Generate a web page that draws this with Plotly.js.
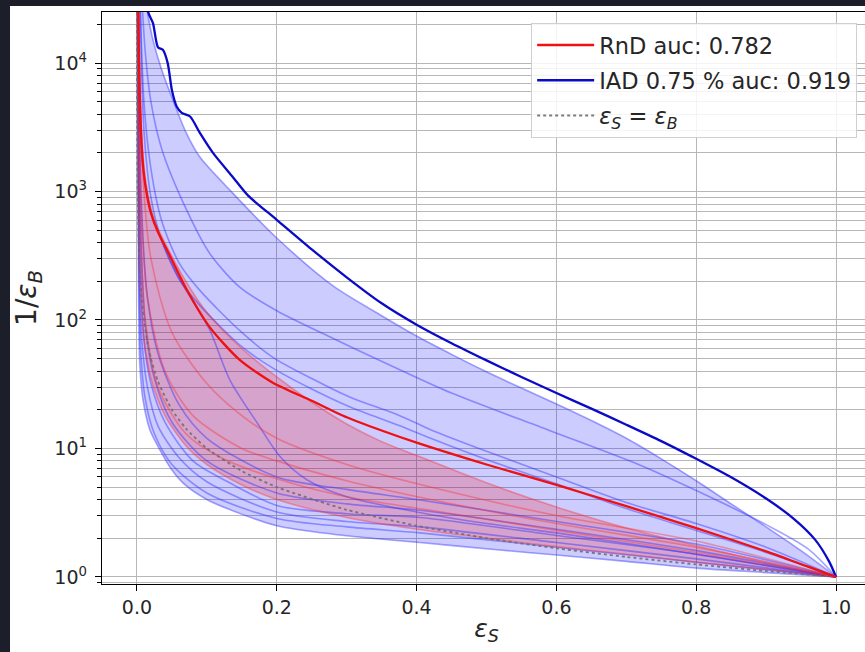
<!DOCTYPE html>
<html>
<head>
<meta charset="utf-8">
<script src="https://cdn.plot.ly/plotly-3.0.1.min.js"></script>
<style>
  html, body { margin:0; padding:0; background:#1c1f29; overflow:hidden; width:865px; height:652px; }
  #chart { position:absolute; left:10px; top:6px; width:880px; height:660px; background:#ffffff; }
</style>
</head>
<body>
<div id="chart"></div>
<script>
// ---------------- data ----------------
// thick IAD curve
const iadX = [0.013, 0.016, 0.023, 0.030, 0.037, 0.044, 0.050, 0.057, 0.064, 0.076, 0.09, 0.109, 0.137, 0.159, 0.2, 0.25, 0.3, 0.35, 0.4, 0.45, 0.5, 0.55, 0.6, 0.65, 0.7, 0.75, 0.8, 0.85, 0.9, 0.94, 0.97, 0.99, 1.0];
const iadY = [40000, 25000, 20400, 13300, 12700, 10000, 6150, 4570, 4100, 3840, 2860, 1990, 1300, 930, 603, 355, 215, 135, 92, 66, 48.5, 36, 27, 20.4, 15.3, 11.4, 8.3, 5.96, 4.07, 2.82, 1.95, 1.32, 1.0];
// thick RnD curve
const rndX = [0.0015, 0.0029, 0.0057, 0.0093, 0.0143, 0.020, 0.030, 0.043, 0.0715, 0.104, 0.147, 0.195, 0.25, 0.3, 0.35, 0.4, 0.5, 0.6, 0.7, 0.8, 0.9, 0.96, 1.0];
const rndY = [40000, 10550, 3010, 1470, 939, 680, 484, 351, 171, 88, 48.9, 32.3, 23.5, 17.5, 13.8, 11.1, 7.5, 5.2, 3.55, 2.4, 1.58, 1.2, 1.0];
// IAD band: upper and lower envelope
const iadUpX = [0.010, 0.015, 0.023, 0.035, 0.0515, 0.07, 0.09, 0.137, 0.2, 0.28, 0.35, 0.4, 0.45, 0.5, 0.55, 0.6, 0.65, 0.7, 0.75, 0.8, 0.85, 0.9, 0.95, 1.0];
const iadUpY = [40000, 25000, 15100, 9000, 5150, 2900, 1855, 973, 435, 185, 108, 75, 54, 39.5, 29.5, 22.2, 16.5, 12, 8.3, 5.6, 3.7, 2.45, 1.6, 1.0];
const iadLoX = [0.0005, 0.002, 0.004, 0.0086, 0.0186, 0.033, 0.05, 0.069, 0.1, 0.129, 0.2, 0.28, 0.405, 0.519, 0.6, 0.7, 0.8, 0.9, 1.0];
const iadLoY = [40000, 300, 46, 24, 13.9, 9.7, 6.8, 5.2, 4.0, 3.4, 2.5, 2.15, 1.85, 1.62, 1.48, 1.32, 1.17, 1.08, 1.0];
// RnD band: upper and lower envelope
const rndUpX = [0.002, 0.0045, 0.009, 0.015, 0.025, 0.04, 0.07, 0.1, 0.15, 0.2, 0.25, 0.3, 0.35, 0.405, 0.5, 0.6, 0.7, 0.8, 0.9, 1.0];
const rndUpY = [40000, 6000, 1800, 1000, 600, 400, 200, 115, 60, 36, 23, 15.5, 11.3, 8.6, 5.4, 3.5, 2.4, 1.75, 1.3, 1.0];
const rndLoX = [0.0008, 0.003, 0.006, 0.01, 0.02, 0.04, 0.07, 0.1, 0.15, 0.2, 0.3, 0.4, 0.5, 0.6, 0.7, 0.8, 0.9, 1.0];
const rndLoY = [40000, 400, 130, 70, 35, 18, 10.5, 7.5, 5.2, 4.0, 2.9, 2.35, 2.0, 1.72, 1.5, 1.3, 1.14, 1.0];
// individual IAD runs (thin blue)
const iadRun2X = [0.006, 0.012, 0.02, 0.036, 0.072, 0.104, 0.147, 0.2, 0.28, 0.376, 0.45, 0.59, 0.72, 0.8, 0.9, 0.96, 1.0];
const iadRun2Y = [40000, 12000, 5000, 2100, 700, 330, 180, 118, 72, 41, 27, 13.8, 7.4, 4.7, 2.55, 1.65, 1.0];
const iadRun3X = [0.004, 0.01, 0.02, 0.035, 0.06, 0.09, 0.15, 0.195, 0.25, 0.305, 0.376, 0.42, 0.5, 0.6, 0.7, 0.8, 0.9, 1.0];
const iadRun3Y = [40000, 5000, 1500, 600, 280, 170, 80, 51, 35, 25, 18, 14, 9.5, 6.0, 3.8, 2.6, 1.7, 1.0];
const iadRun4X = [0.004, 0.01, 0.02, 0.035, 0.06, 0.09, 0.15, 0.195, 0.25, 0.305, 0.376, 0.42, 0.5, 0.6, 0.7, 0.8, 0.9, 1.0];
const iadRun4Y = [40000, 3000, 900, 420, 210, 130, 62, 42, 29, 21, 15, 12, 8.2, 5.3, 3.4, 2.3, 1.55, 1.0];
const iadRun5X = [0.0015, 0.005, 0.01, 0.02, 0.035, 0.0615, 0.08, 0.104, 0.133, 0.172, 0.205, 0.243, 0.3, 0.4, 0.5, 0.6, 0.8, 1.0];
const iadRun5Y = [40000, 3000, 1300, 700, 420, 204, 140, 84, 34, 15.8, 8.6, 5.7, 4.2, 3.2, 2.6, 2.2, 1.5, 1.0];
const iadRun6X = [0.0007, 0.003, 0.006, 0.012, 0.025, 0.05, 0.1, 0.2, 0.3, 0.405, 0.6, 0.8, 1.0];
const iadRun6Y = [40000, 200, 50, 24, 13, 7.5, 4.5, 2.85, 2.45, 2.2, 1.7, 1.3, 1.0];
const iadRun7X = [0.0008, 0.003, 0.007, 0.015, 0.03, 0.06, 0.1, 0.2, 0.3, 0.405, 0.6, 0.8, 1.0];
const iadRun7Y = [40000, 300, 70, 30, 15, 8.5, 5.5, 3.2, 2.7, 2.45, 1.85, 1.38, 1.0];
const iadRun8X = [0.001, 0.004, 0.01, 0.02, 0.04, 0.08, 0.13, 0.2, 0.3, 0.405, 0.6, 0.8, 1.0];
const iadRun8Y = [40000, 400, 70, 32, 16, 8, 5.5, 3.6, 3.1, 2.9, 2.1, 1.5, 1.0];
const iadRun9X = [0.001, 0.005, 0.012, 0.025, 0.05, 0.1, 0.2, 0.3, 0.405, 0.6, 0.8, 1.0];
const iadRun9Y = [40000, 600, 90, 35, 16, 8, 4.5, 3.7, 3.3, 2.35, 1.6, 1.0];
const iadRun10X = [0.0015, 0.006, 0.015, 0.03, 0.06, 0.1, 0.2, 0.3, 0.405, 0.6, 0.8, 1.0];
const iadRun10Y = [40000, 900, 150, 55, 22, 12, 6.0, 4.8, 3.97, 2.7, 1.8, 1.0];
// individual RnD runs (thin red)
const rndRun2X = [0.002, 0.008, 0.02, 0.05, 0.1, 0.15, 0.2, 0.3, 0.42, 0.6, 0.8, 1.0];
const rndRun2Y = [40000, 1500, 300, 80, 32, 18, 12, 7.5, 5.0, 3.0, 1.9, 1.0];
const rndRun3X = [0.002, 0.006, 0.015, 0.04, 0.08, 0.15, 0.2, 0.3, 0.42, 0.6, 0.8, 1.0];
const rndRun3Y = [40000, 800, 150, 40, 18, 10, 8, 5.6, 4.0, 2.6, 1.7, 1.0];
const rndRun4X = [0.001, 0.005, 0.012, 0.03, 0.07, 0.12, 0.2, 0.3, 0.42, 0.6, 0.8, 1.0];
const rndRun4Y = [40000, 500, 100, 30, 13, 8.5, 5.8, 4.2, 3.3, 2.3, 1.55, 1.0];
// random classifier line eps_S = eps_B
const randX = [0.00004, 0.0001, 0.0003, 0.001, 0.002, 0.004, 0.007, 0.01, 0.015, 0.02, 0.03, 0.05, 0.07, 0.1, 0.15, 0.2, 0.3, 0.4, 0.5, 0.6, 0.7, 0.8, 0.9, 1.0];
const randY = [25000, 10000, 3333, 1000, 500, 250, 143, 100, 66.7, 50, 33.3, 20, 14.3, 10, 6.67, 5, 3.33, 2.5, 2, 1.67, 1.43, 1.25, 1.11, 1.0];

const legendNames = ['RnD auc: 0.782', 'IAD 0.75 % auc: 0.919', '<i>ε<sub>S</sub></i> = <i>ε<sub>B</sub></i>'];
const xTickVals = [0, 0.2, 0.4, 0.6, 0.8, 1.0];
const xTickText = ['0.0', '0.2', '0.4', '0.6', '0.8', '1.0'];
const yTickVals = [1, 10, 100, 1000, 10000];
const yTickText = ['10<sup>0</sup>', '10<sup>1</sup>', '10<sup>2</sup>', '10<sup>3</sup>', '10<sup>4</sup>'];

// ---------------- build ----------------
const yMinor = [];
[0.1, 1, 10, 100, 1000, 10000].forEach(d => { for (let m = 2; m <= 9; m++) yMinor.push(m * d); });

const SPL = 0.8;
function band(upX, upY, loX, loY, color) {
  return {
    x: upX.concat(loX.slice().reverse()),
    y: upY.concat(loY.slice().reverse()),
    type: 'scatter', mode: 'lines', fill: 'toself', fillcolor: color,
    line: {width: 0, shape: 'spline', smoothing: SPL}, hoverinfo: 'skip', showlegend: false
  };
}
function thin(x, y, color) {
  return {x: x, y: y, type: 'scatter', mode: 'lines',
    line: {color: color, width: 1.6, shape: 'spline', smoothing: SPL},
    hoverinfo: 'skip', showlegend: false};
}
const thinBlue = 'rgba(40,40,255,0.42)';
const thinRed = 'rgba(255,40,40,0.38)';

const traces = [
  band(iadUpX, iadUpY, iadLoX, iadLoY, 'rgba(0,0,255,0.2)'),
  band(rndUpX, rndUpY, rndLoX, rndLoY, 'rgba(255,0,0,0.2)'),
  thin(iadUpX, iadUpY, thinBlue),
  thin(iadLoX, iadLoY, thinBlue),
  thin(iadRun2X, iadRun2Y, thinBlue),
  thin(iadRun3X, iadRun3Y, thinBlue),
  thin(iadRun4X, iadRun4Y, thinBlue),
  thin(iadRun5X, iadRun5Y, thinBlue),
  thin(iadRun6X, iadRun6Y, thinBlue),
  thin(iadRun7X, iadRun7Y, thinBlue),
  thin(iadRun8X, iadRun8Y, thinBlue),
  thin(iadRun9X, iadRun9Y, thinBlue),
  thin(iadRun10X, iadRun10Y, thinBlue),
  thin(rndUpX, rndUpY, thinRed),
  thin(rndLoX, rndLoY, thinRed),
  thin(rndRun2X, rndRun2Y, thinRed),
  thin(rndRun3X, rndRun3Y, thinRed),
  thin(rndRun4X, rndRun4Y, thinRed),
  {x: randX, y: randY, type: 'scatter', mode: 'lines', name: legendNames[2], legendrank: 3, legendgroup: 'c',
   line: {color: 'rgba(110,110,110,0.9)', width: 1.8, dash: 'dot', shape: 'spline', smoothing: 0.6}, hoverinfo: 'skip'},
  {x: iadX, y: iadY, type: 'scatter', mode: 'lines', name: legendNames[1], legendrank: 2, legendgroup: 'b',
   line: {color: '#0a0ac8', width: 2.3, shape: 'spline', smoothing: 0.7}, hoverinfo: 'skip'},
  {x: rndX, y: rndY, type: 'scatter', mode: 'lines', name: legendNames[0], legendrank: 1, legendgroup: 'a',
   line: {color: '#f01010', width: 2.3, shape: 'spline', smoothing: 0.7}, hoverinfo: 'skip'}
];

const FONT = 'DejaVu Sans, Verdana, sans-serif';
const gridC = '#b7b7b7';
const layout = {
  width: 880, height: 660,
  margin: {l: 92, r: 19, t: 6, b: 82},
  paper_bgcolor: '#ffffff', plot_bgcolor: '#ffffff',
  font: {family: FONT, color: '#262626'},
  showlegend: true,
  legend: {
    x: 0.982, y: 0.981, xanchor: 'right', yanchor: 'top',
    bgcolor: 'rgba(255,255,255,0.85)', bordercolor: '#d0d0d0', borderwidth: 1,
    font: {family: FONT, size: 22.5, color: '#262626'},
    itemwidth: 57, tracegroupgap: 3, traceorder: 'grouped'
  },
  xaxis: {
    type: 'linear', range: [-0.05, 1.05],
    tickvals: xTickVals, ticktext: xTickText,
    ticks: 'outside', ticklen: 6, tickwidth: 1, tickcolor: '#000',
    tickfont: {family: FONT, size: 19, color: '#262626'},
    showgrid: true, gridcolor: gridC, gridwidth: 1,
    showline: true, linecolor: '#000', linewidth: 1.2, mirror: true,
    zeroline: false,
    title: {text: '<i>ε<sub>S</sub></i>', font: {family: FONT, size: 25, color: '#262626'}, standoff: 2}
  },
  yaxis: {
    type: 'log', range: [Math.log10(0.88), Math.log10(25000)],
    tickvals: yTickVals, ticktext: yTickText,
    ticks: 'outside', ticklen: 6, tickwidth: 1, tickcolor: '#000',
    tickfont: {family: FONT, size: 19, color: '#262626'},
    ticklabelstandoff: 4,
    showgrid: true, gridcolor: gridC, gridwidth: 1,
    minor: {tickvals: yMinor, ticks: 'outside', ticklen: 3.5, tickcolor: '#000', showgrid: true, gridcolor: gridC, gridwidth: 1},
    showline: true, linecolor: '#000', linewidth: 1.2, mirror: true,
    zeroline: false,
    title: {text: '1/<i>ε<sub>B</sub></i>', font: {family: FONT, size: 28, color: '#262626'}, standoff: 10}
  }
};

Plotly.newPlot('chart', traces, layout, {displayModeBar: false, staticPlot: true});
</script>
</body>
</html>
